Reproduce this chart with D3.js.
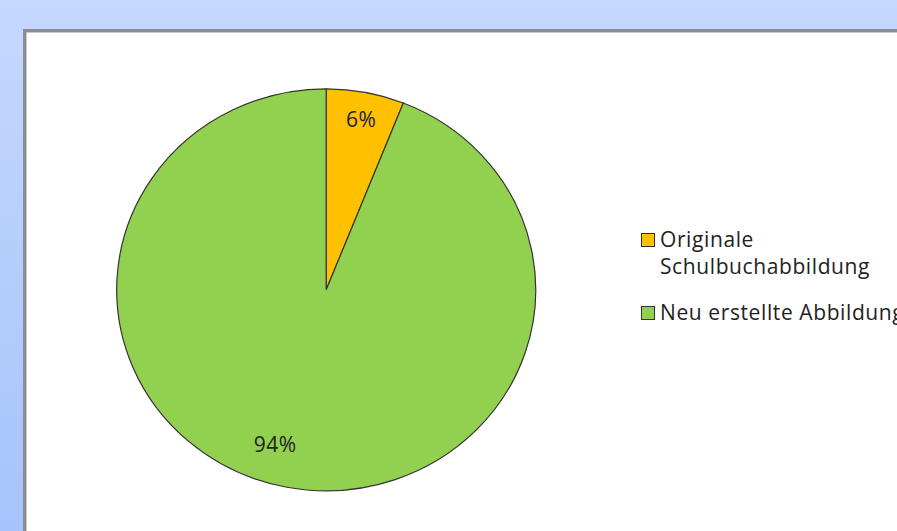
<!DOCTYPE html>
<html><head><meta charset="utf-8">
<script src="https://cdn.jsdelivr.net/npm/d3@7"></script>
<style>html,body{margin:0;padding:0;overflow:hidden;}</style>
</head><body>
<svg id="c" width="897" height="531"></svg>
<script>
const categories = ["Originale Schulbuchabbildung", "Neu erstellte Abbildung"];
const values = [6, 94];
const labels = ["6%", "94%"];
const legendLines = [["Originale", "Schulbuchabbildung"], ["Neu erstellte Abbildung"]];
const colors = ["#FFC000", "#92D050"];

const svg = d3.select("#c");
const defs = svg.append("defs");
const g = defs.append("linearGradient").attr("id","bg").attr("x1",0).attr("y1",0).attr("x2",0).attr("y2",1);
g.append("stop").attr("offset","0%").attr("stop-color","#c5d8fe");
g.append("stop").attr("offset","100%").attr("stop-color","#a6c3fb");
svg.append("rect").attr("width",897).attr("height",531).attr("fill","url(#bg)");

// panel
svg.append("rect").attr("x",24.5).attr("y",30.5).attr("width",900).attr("height",520)
  .attr("fill","#fff").attr("stroke","#8a8d92").attr("stroke-width",3);
svg.append("rect").attr("x",26.5).attr("y",32.5).attr("width",900).attr("height",520)
  .attr("fill","none").attr("stroke","#c8c8c8").attr("stroke-width",1);

const cx = 326.2, cy = 289.8, r = 209.5, ky = 201 / 209.5;
const pie = d3.pie().sort(null).value(d => d)(values);
const arc = d3.arc().innerRadius(0).outerRadius(r);
const gp = svg.append("g").attr("transform",`translate(${cx},${cy}) scale(1,${ky})`);
gp.selectAll("path").data(pie).join("path")
  .attr("d", arc).attr("fill", (d,i) => colors[i])
  .attr("stroke","#333").attr("stroke-width",1.2);

const font = "'Open Sans', 'Liberation Sans', sans-serif";
// best-fit label placement: angle offset (deg) from slice mid and radius fraction
const labelAngleShift = [0.4, 6.8];
const labelRadiusFrac = [0.862, 0.807];
svg.selectAll("text.lbl").data(pie).join("text").attr("class","lbl")
  .attr("transform",(d,i) => {
    const a = (d.startAngle + d.endAngle) / 2 + labelAngleShift[i] * Math.PI / 180;
    const p = d3.pointRadial(a, r * labelRadiusFrac[i]);
    return `translate(${cx + p[0]},${cy + p[1] * ky})`;
  })
  .attr("text-anchor","middle").attr("dy","0.36em")
  .attr("font-family",font).attr("font-size",21).attr("letter-spacing",0.5).attr("fill","#222")
  .text((d,i) => labels[i]);

// legend
const legY = [240, 313];
categories.forEach((c,i) => {
  const lg = svg.append("g");
  lg.append("rect").attr("x",641.5).attr("y",legY[i]-6.5).attr("width",13).attr("height",13)
    .attr("fill",colors[i]).attr("stroke","#333").attr("stroke-width",1);
  legendLines[i].forEach((t,j) => {
    lg.append("text").attr("x",660).attr("y",legY[i]+7+j*27)
      .attr("font-family",font).attr("font-size",21).attr("letter-spacing",0.6).attr("fill","#222").text(t);
  });
});
</script>
</body></html>
